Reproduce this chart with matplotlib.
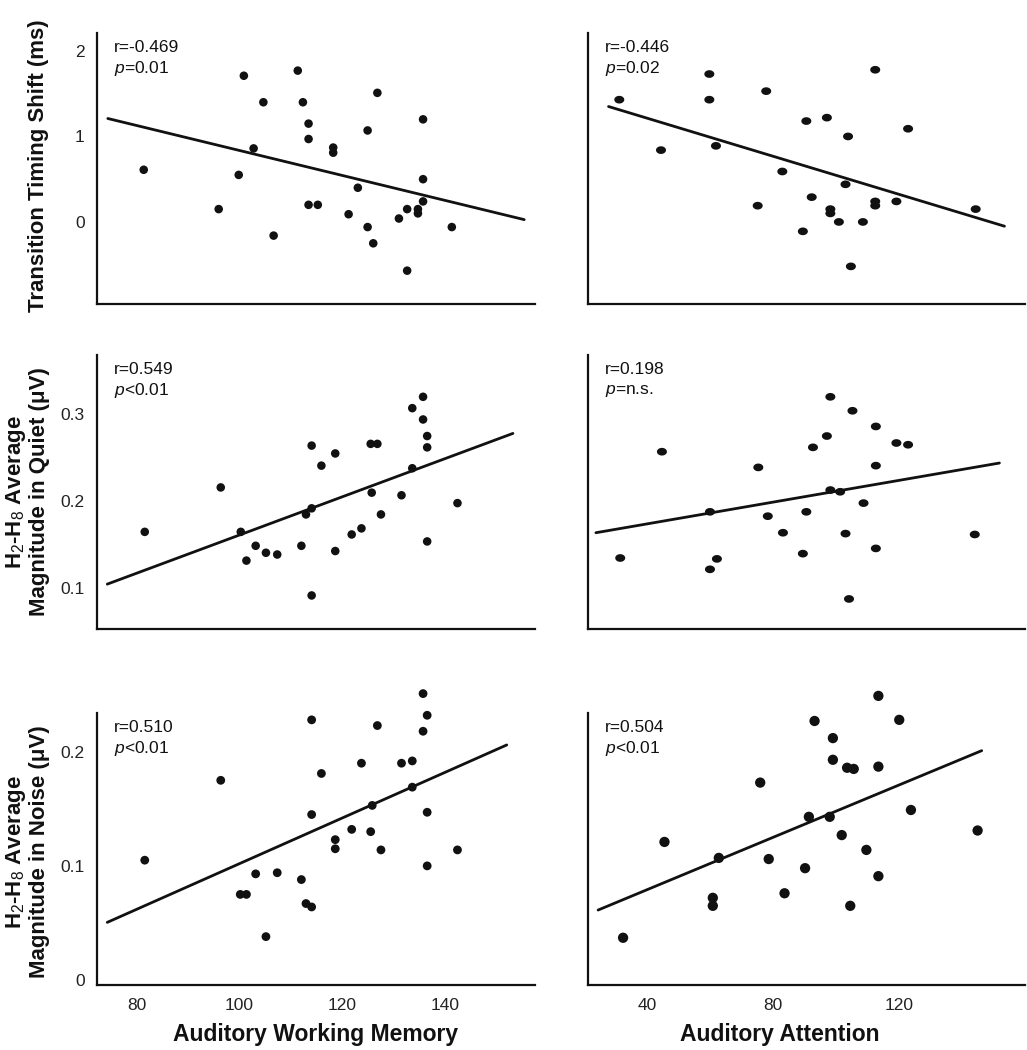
import matplotlib
matplotlib.use("Agg")
import matplotlib.pyplot as plt
from matplotlib.path import Path
import numpy as np

plt.rcParams['font.family'] = ['Liberation Sans', 'DejaVu Sans']
plt.rcParams['mathtext.fontset'] = 'custom'
plt.rcParams['mathtext.rm'] = 'Liberation Sans'
plt.rcParams['mathtext.it'] = 'Liberation Sans:italic'
plt.rcParams['mathtext.bf'] = 'Liberation Sans:bold'

# ---------------- data ----------------
# Panel A: Working memory vs transition timing shift
wm_a = [81.4, 100.9, 96.0, 99.9, 102.8, 104.7, 106.7, 111.4, 112.4, 113.5, 113.5, 113.5, 115.3,
        118.3, 118.3, 121.3, 123.1, 125.0, 125.0, 126.1, 126.9, 131.1, 132.7, 132.7, 134.8, 134.8,
        135.8, 135.8, 135.8, 141.4]
shift_a = [0.61, 1.71, 0.15, 0.55, 0.86, 1.40, -0.16, 1.77, 1.40, 1.15, 0.97, 0.20, 0.20,
           0.87, 0.81, 0.09, 0.40, 1.07, -0.06, -0.25, 1.51, 0.04, 0.15, -0.57, 0.15, 0.10,
           1.20, 0.50, 0.24, -0.06]
fit_a_x = [74.4, 155.5]
fit_a_y = [1.21, 0.027]

# Panel B: Attention vs transition timing shift
att_b = [31.3, 44.5, 59.8, 59.8, 61.9, 75.1, 77.8, 82.9, 89.4, 90.5, 92.2, 97.0, 98.1, 98.1,
         100.8, 102.9, 103.7, 104.6, 108.4, 112.3, 112.3, 112.3, 119.0, 122.7, 144.1]
shift_b = [1.43, 0.84, 1.73, 1.43, 0.89, 0.19, 1.53, 0.59, -0.11, 1.18, 0.29, 1.22, 0.15, 0.10,
           0.00, 0.44, 1.00, -0.52, 0.00, 1.78, 0.24, 0.19, 0.24, 1.09, 0.15]
fit_b_x = [27.9, 153.2]
fit_b_y = [1.35, -0.05]

# Panel C: Working memory vs H2-H8 magnitude in quiet
wm_c = [81.6, 96.4, 100.3, 101.4, 103.2, 105.2, 107.4, 112.1, 113.0, 114.1, 114.1, 114.1, 116.0,
        118.7, 118.7, 121.9, 123.8, 125.6, 126.9, 125.8, 127.6, 131.6, 133.7, 133.7, 135.8, 135.8,
        136.6, 136.6, 136.6, 142.5]
quiet_c = [0.165, 0.216, 0.165, 0.132, 0.149, 0.141, 0.139, 0.149, 0.185, 0.264, 0.192, 0.092,
           0.241, 0.255, 0.143, 0.162, 0.169, 0.266, 0.266, 0.210, 0.185, 0.207, 0.307, 0.238,
           0.320, 0.294, 0.275, 0.262, 0.154, 0.198]
fit_c_x = [74.3, 153.3]
fit_c_y = [0.105, 0.278]

# Panel D: Attention vs H2-H8 magnitude in quiet
att_d = [31.6, 44.8, 60.0, 60.0, 62.2, 75.3, 78.3, 83.1, 89.4, 90.5, 92.6, 97.0, 98.1, 98.1,
         101.2, 102.9, 104.0, 105.1, 108.6, 112.5, 112.5, 112.5, 119.0, 122.7, 143.8]
quiet_d = [0.135, 0.257, 0.188, 0.122, 0.134, 0.239, 0.183, 0.164, 0.140, 0.188, 0.262, 0.275,
           0.320, 0.213, 0.211, 0.163, 0.088, 0.304, 0.198, 0.286, 0.241, 0.146, 0.267, 0.265,
           0.162]
fit_d_x = [23.9, 151.6]
fit_d_y = [0.164, 0.244]

# Panel E: Working memory vs H2-H8 magnitude in noise
wm_e = [81.6, 96.4, 100.2, 101.4, 103.2, 105.2, 107.4, 112.1, 113.0, 114.1, 114.1, 114.1, 116.0,
        118.7, 118.7, 121.9, 123.8, 125.6, 125.9, 126.9, 127.6, 131.6, 133.7, 133.7, 135.8, 135.8,
        136.6, 136.6, 136.6, 142.5]
noise_e = [0.105, 0.175, 0.075, 0.075, 0.093, 0.038, 0.094, 0.088, 0.067, 0.228, 0.145, 0.064,
           0.181, 0.123, 0.115, 0.132, 0.190, 0.130, 0.153, 0.223, 0.114, 0.190, 0.192, 0.169,
           0.251, 0.218, 0.232, 0.147, 0.100, 0.114]
fit_e_x = [74.3, 152.1]
fit_e_y = [0.0505, 0.206]

# Panel F: Attention vs H2-H8 magnitude in noise
att_f = [32.5, 45.6, 60.9, 60.9, 62.8, 75.9, 78.6, 83.6, 90.1, 91.3, 93.1, 97.9, 98.9, 98.9,
         101.7, 103.4, 105.5, 104.4, 109.5, 113.3, 113.3, 113.3, 119.9, 123.6, 144.7]
noise_f = [0.037, 0.121, 0.072, 0.065, 0.107, 0.173, 0.106, 0.076, 0.098, 0.143, 0.227, 0.143,
           0.212, 0.193, 0.127, 0.186, 0.185, 0.065, 0.114, 0.249, 0.187, 0.091, 0.228, 0.149,
           0.131]
fit_f_x = [24.6, 146.0]
fit_f_y = [0.0613, 0.201]

stats_r = ["r=-0.469", "r=-0.446", "r=0.549", "r=0.198", "r=0.510", "r=0.504"]
stats_p = ["=0.01", "=0.02", "<0.01", "=n.s.", "<0.01", "<0.01"]

ylabels = ["Transition Timing Shift (ms)",
           "H$_2$-H$_8$ Average\nMagnitude in Quiet (\u03bcV)",
           "H$_2$-H$_8$ Average\nMagnitude in Noise (\u03bcV)"]
xlabels = ["Auditory Working Memory", "Auditory Attention"]

ytick_vals = [[0, 1, 2], [0.1, 0.2, 0.3], [0, 0.1, 0.2]]
ytick_labels = [["0", "1", "2"], ["0.1", "0.2", "0.3"], ["0", "0.1", "0.2"]]
xtick_vals = [[80, 100, 120, 140], [40, 80, 120]]
xtick_labels = [["80", "100", "120", "140"], ["40", "80", "120"]]

# ---------------- layout ----------------
W, H = 1027, 1050
fig = plt.figure(figsize=(W / 100, H / 100), dpi=100)
fig.patch.set_facecolor('white')

col_px = [(97, 535), (588, 1025)]
row_px = [(33, 304), (355, 629), (713, 985)]
xlims = [(72.3, 157.6), (21.4, 159.7)]
ylims = [(-0.96, 2.21), (0.0535, 0.368), (-0.0044, 0.234)]

# slightly flattened dot for the right column
t = np.linspace(0, 2 * np.pi, 40)
oval = Path(np.column_stack([1.3 * np.cos(t), np.sin(t)]), closed=True)

panels = [
    (wm_a, shift_a, fit_a_x, fit_a_y, 38, 'o'),
    (att_b, shift_b, fit_b_x, fit_b_y, 52, oval),
    (wm_c, quiet_c, fit_c_x, fit_c_y, 38, 'o'),
    (att_d, quiet_d, fit_d_x, fit_d_y, 52, oval),
    (wm_e, noise_e, fit_e_x, fit_e_y, 40, 'o'),
    (att_f, noise_f, fit_f_x, fit_f_y, 55, 'o'),
]

ink = '#111111'
for i, (xs, ys, fx, fy, ms, mk) in enumerate(panels):
    r, c = divmod(i, 2)
    x0, x1 = col_px[c]
    y0, y1 = row_px[r]
    ax = fig.add_axes([x0 / W, 1 - y1 / H, (x1 - x0) / W, (y1 - y0) / H])
    ax.set_xlim(*xlims[c])
    ax.set_ylim(*ylims[r])
    ax.scatter(xs, ys, s=ms, marker=mk, color=ink, edgecolors='none', clip_on=False, zorder=3)
    ax.plot(fx, fy, color=ink, lw=2.0, solid_capstyle='round', zorder=2)
    for s in ['top', 'right']:
        ax.spines[s].set_visible(False)
    for s in ['left', 'bottom']:
        ax.spines[s].set_linewidth(1.6)
        ax.spines[s].set_color(ink)
    ax.tick_params(length=0, labelsize=12.5, colors='#222222', pad=9)
    if c == 0:
        ax.set_yticks(ytick_vals[r])
        ax.set_yticklabels(ytick_labels[r])
    else:
        ax.set_yticks([])
    if r == 2:
        ax.set_xticks(xtick_vals[c])
        ax.set_xticklabels(xtick_labels[c])
    else:
        ax.set_xticks([])
    ax.annotate(stats_r[i], xy=(0, 1), xycoords='axes fraction', xytext=(17, -15),
                textcoords='offset pixels', ha='left', va='center', fontsize=12.5, color=ink)
    ax.annotate("$\\mathit{p}$" + stats_p[i], xy=(0, 1), xycoords='axes fraction',
                xytext=(17, -36), textcoords='offset pixels', ha='left', va='center',
                fontsize=12.5, color=ink)

# y labels
ylab_pos = [(39, 166), (27, 492), (27, 852)]
for r in range(3):
    x, y = ylab_pos[r]
    fig.text(x / W, 1 - y / H, ylabels[r], rotation=90, ha='center', va='center',
             fontsize=16, fontweight='bold', color=ink, linespacing=1.05,
             multialignment='center')

# x labels
xlab_pos = [(316, 1035), (780, 1035)]
for c in range(2):
    x, y = xlab_pos[c]
    fig.text(x / W, 1 - y / H, xlabels[c], ha='center', va='center',
             fontsize=16.5, fontweight='bold', color=ink)

fig.savefig('out.png', dpi=100, facecolor='white')
